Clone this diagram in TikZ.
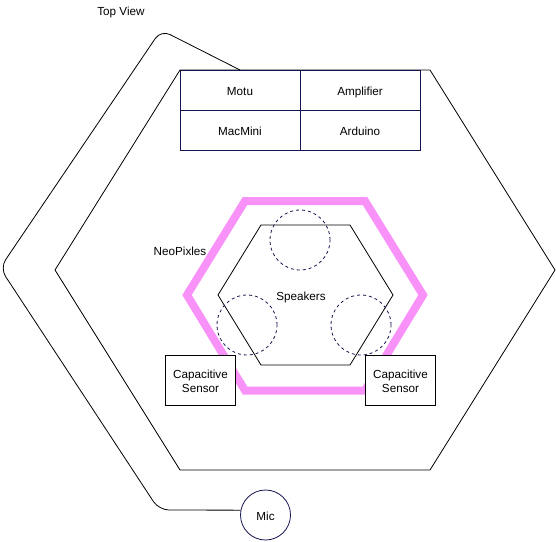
\documentclass[tikz,border=0pt]{standalone}
\usepackage{fontspec}
\setmainfont{Liberation Sans}
\usetikzlibrary{positioning}
\definecolor{navyline}{RGB}{20,20,80}
\definecolor{neopink}{RGB}{248,146,248}

\begin{document}
\begin{tikzpicture}[x=1pt,y=-1pt,line width=0.8pt,font=\fontsize{11.7}{14}\selectfont,
    CellStyle/.style = {draw=navyline, minimum width=120pt, minimum height=40pt, outer sep=0pt, inner sep=0pt, text height=10pt, text depth=0pt},
    SensorStyle/.style = {draw, fill=white, minimum width=70pt, minimum height=50pt, inner sep=0pt, align=center},
    SpeakerStyle/.style = {draw=navyline, dashed, circle, minimum size=60pt, inner sep=0pt},
    PlainLabel/.style = {inner sep=0pt, text height=10pt, text depth=0pt}]
  \useasboundingbox (0,0) rectangle (556,541);

  % housing and led ring
  \draw (180,70) -- (55,270) -- (180,470) -- (430,470) -- (555,270) -- (430,70) -- cycle;
  \draw[neopink, line width=8pt, line join=miter] (245,201) -- (187,295) -- (245,390.5) -- (365,390.5) -- (423,295) -- (365,201) -- cycle;
  \draw (261,225) -- (218,295) -- (261,365) -- (350,365) -- (393,295) -- (350,225) -- cycle;

  % electronics
  \node[CellStyle] (Motu) at (240,90) {Motu};
  \node[CellStyle, right=0pt of Motu] (Amplifier) {Amplifier};
  \node[CellStyle, below=0pt of Motu] (MacMini) {MacMini};
  \node[CellStyle, right=0pt of MacMini] (Arduino) {Arduino};

  \node[SpeakerStyle] (SpeakerTop) at (300,240) {};
  \node[SpeakerStyle] (SpeakerLeft) at (247,325) {};
  \node[SpeakerStyle] (SpeakerRight) at (361,325) {};

  \node[SensorStyle] (SensorLeft) at (200.5,380) {\rule{0pt}{11pt}Capacitive\\Sensor};
  \node[SensorStyle] (SensorRight) at (400.5,380) {\rule{0pt}{11pt}Capacitive\\Sensor};

  \node[draw=navyline, circle, minimum size=50pt, inner sep=0pt, text height=10pt, text depth=0pt] (Mic) at (265.5,515) {Mic};

  \node[PlainLabel] (TopView) at (121,10) {Top View};
  \node[PlainLabel] (NeoPixles) at (180,250) {NeoPixles};
  \node[PlainLabel] (Speakers) at (301,295) {Speakers};

  % mic cable
  \draw[rounded corners=10pt] (Motu.north) -- (161,30) -- (0,268) -- (159,510) -- (Mic.169);
\end{tikzpicture}
\end{document}
